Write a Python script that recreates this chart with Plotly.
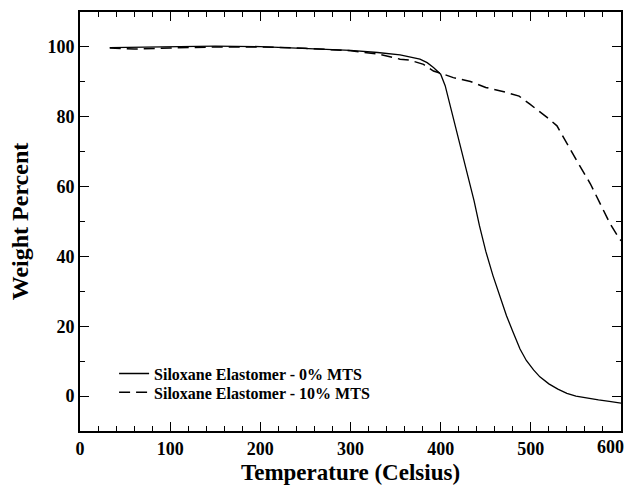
import plotly.graph_objects as go

temp_0 = [33, 60, 100, 150, 200, 250, 300, 330, 355, 377, 385, 392, 400, 405, 411, 416, 423, 430, 437, 443, 450, 458, 466, 473, 480, 488, 495, 503, 510, 520, 530, 540, 550, 562, 575, 587, 600]
wt_0 = [99.8, 99.9, 100.0, 100.2, 100.1, 99.6, 99.0, 98.4, 97.7, 96.5, 95.5, 94.1, 92.2, 88.9, 82.7, 76.9, 70.5, 63.2, 56.0, 48.8, 41.5, 34.5, 28.5, 23.0, 18.5, 13.5, 10.2, 7.5, 5.5, 3.5, 2.0, 0.8, 0.0, -0.6, -1.1, -1.5, -2.0]

temp_10 = [33, 60, 100, 150, 200, 250, 300, 330, 355, 366, 381, 392, 403, 414, 433, 450, 474, 487, 499, 510, 518, 529, 533, 537, 551, 566, 577, 588, 596, 600]
wt_10 = [99.7, 99.4, 99.7, 100.0, 100.0, 99.6, 98.9, 98.0, 96.5, 96.2, 95.0, 93.1, 92.2, 91.2, 90.1, 88.4, 86.9, 85.9, 83.6, 81.5, 79.8, 77.4, 75.5, 73.6, 67.4, 60.8, 55.0, 49.3, 46.0, 44.5]

names = ["Siloxane Elastomer - 0% MTS", "Siloxane Elastomer - 10% MTS"]

x_ticks = [0, 100, 200, 300, 400, 500, 600]
y_ticks = [0, 20, 40, 60, 80, 100]

FONT = "Liberation Serif"
tick_font = dict(family=FONT, size=18, color="black", weight="bold")

fig = go.Figure()
fig.add_trace(go.Scatter(x=temp_0, y=wt_0, mode="lines", name=names[0], legend="legend",
                         line=dict(color="black", width=1.3)))
fig.add_trace(go.Scatter(x=temp_10, y=wt_10, mode="lines", name=names[1], legend="legend2",
                         line=dict(color="black", width=1.5, dash="11px,6px")))

axis_common = dict(
    showgrid=False, zeroline=False, showline=True, linecolor="black", linewidth=2,
    mirror="allticks", ticks="inside", tickcolor="black", tickwidth=1.2,
    tickfont=tick_font, automargin=False,
)

# last x label is drawn as an annotation so it stays inside the page
x_text = [str(v) for v in x_ticks[:-1]] + [""]
fig.update_xaxes(range=[0, 600], tickvals=x_ticks, ticktext=x_text, ticklen=9,
                 minor=dict(dtick=20, ticks="inside", ticklen=5, tickcolor="black", tickwidth=1),
                 title=dict(text="Temperature (Celsius)", font=dict(family=FONT, size=23, color="black", weight="bold"), standoff=8),
                 **axis_common)
fig.update_yaxes(range=[-10, 110], tickvals=y_ticks, ticklen=9,
                 minor=dict(dtick=10, ticks="inside", ticklen=5, tickcolor="black", tickwidth=1),
                 title=dict(text="Weight Percent", font=dict(family=FONT, size=24, color="black", weight="bold"), standoff=12),
                 **axis_common)

fig.add_annotation(x=x_ticks[-1], xref="x", y=0, yref="paper", text=str(x_ticks[-1]),
                   showarrow=False, xanchor="right", yanchor="top", xshift=5, yshift=-4,
                   font=tick_font)

leg_common = dict(xanchor="left", yanchor="middle", bgcolor="rgba(0,0,0,0)",
                  font=dict(family=FONT, size=16, color="black", weight="bold"),
                  itemwidth=30, tracegroupgap=0)

fig.update_layout(
    width=626, height=485,
    margin=dict(l=80, r=5, t=12, b=54, autoexpand=False),
    plot_bgcolor="white", paper_bgcolor="white",
    showlegend=True,
    legend=dict(x=0.063, y=0.137, **leg_common),
    legend2=dict(x=0.063, y=0.092, **leg_common),
)

fig.write_html("out.html")
